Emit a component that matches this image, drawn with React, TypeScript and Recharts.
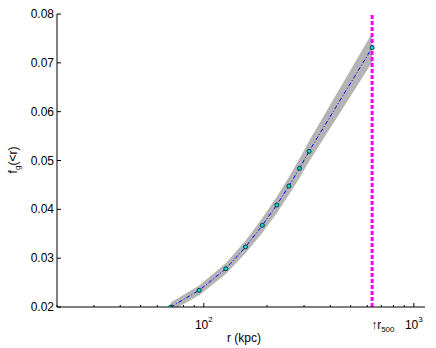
import React from 'react';
import { ComposedChart, Area, Line, XAxis, YAxis, ReferenceLine } from 'recharts';

// radius (kpc) and enclosed gas fraction
const radii = [69.6, 95, 127.3, 157.9, 190, 222.6, 254, 285.6, 317, 633];
const gasFrac = [0.02, 0.02342, 0.02784, 0.03229, 0.03673, 0.04089, 0.04478, 0.0484, 0.05189, 0.0731];
const bandLow = [0.0191, 0.02242, 0.02674, 0.03099, 0.03523, 0.03919, 0.04298, 0.0464, 0.04979, 0.0701];
const bandHigh = [0.0209, 0.02442, 0.02894, 0.03359, 0.03823, 0.04259, 0.04658, 0.0504, 0.05399, 0.0761];

const r500 = 633;
const xTicks = [20, 30, 40, 50, 60, 70, 80, 90, 100, 200, 300, 400, 500, 600, 700, 800, 900, 1000];
const xLabels: Record<number, string> = { 100: '2', 1000: '3' };
const yTicks = [0.02, 0.03, 0.04, 0.05, 0.06, 0.07, 0.08];

const data = radii.map((r, i) => ({
  r,
  f: gasFrac[i],
  band: [bandLow[i], bandHigh[i]],
}));

const font = '"Liberation Sans", Arial, sans-serif';

const XTick = (props: any) => {
  const { x, y, payload } = props;
  const sup = xLabels[payload.value];
  return (
    <g>
      <line x1={x} x2={x} y1={y} y2={y - (sup ? 4 : 2)} stroke="#000" />
      {sup && (
        <text x={x} y={y + 22} textAnchor="middle" fontSize={12} fontFamily={font} fill="#000">
          <tspan>10</tspan>
          <tspan dy={-7} fontSize={8}>{sup}</tspan>
        </text>
      )}
    </g>
  );
};

const YTick = (props: any) => {
  const { x, y, payload } = props;
  return (
    <g>
      <line x1={x} x2={x + 4} y1={y} y2={y} stroke="#000" />
      <text x={x - 3} y={y + 4} textAnchor="end" fontSize={12} fontFamily={font} fill="#000">
        {payload.value.toFixed(2)}
      </text>
    </g>
  );
};

const Dot = (props: any) => {
  const { cx, cy } = props;
  return <circle cx={cx} cy={cy} r={2} fill="#00e0e0" stroke="#003838" strokeWidth={1} />;
};

const R500Label = (props: any) => {
  const { viewBox } = props;
  const x = viewBox.x;
  const y = viewBox.y + viewBox.height + 22;
  return (
    <text x={x - 1} y={y} fontSize={12} fontFamily={font} fill="#000">
      <tspan>↑r</tspan>
      <tspan dy={3} fontSize={8}>500</tspan>
    </text>
  );
};

export default function App() {
  return (
    <div style={{ position: 'absolute', left: 0, top: 0, width: 436, height: 348, background: '#fff' }}>
      <ComposedChart width={436} height={348} data={data} margin={{ top: 14, right: 11, bottom: 0, left: 0 }}>
        <XAxis
          dataKey="r"
          type="number"
          scale="log"
          domain={[20, 1130]}
          allowDataOverflow
          ticks={xTicks}
          interval={0}
          tick={<XTick />}
          tickLine={false}
          tickSize={0}
          tickMargin={0}
          height={41}
          stroke="#000"
        />
        <YAxis
          type="number"
          domain={[0.02, 0.08]}
          allowDataOverflow
          ticks={yTicks}
          interval={0}
          tick={<YTick />}
          tickLine={false}
          tickSize={0}
          tickMargin={0}
          width={57}
          stroke="#000"
        />
        <Area
          dataKey="band"
          type="linear"
          stroke="none"
          fill="#b4b4b4"
          fillOpacity={1}
          isAnimationActive={false}
        />
        <Line
          dataKey="f"
          type="linear"
          stroke="#0000ff"
          strokeWidth={1}
          strokeDasharray="4 2 1 2"
          dot={<Dot />}
          isAnimationActive={false}
        />
        <ReferenceLine
          x={r500}
          stroke="#ff00ff"
          strokeWidth={3}
          strokeDasharray="4 2"
          label={<R500Label />}
        />
      </ComposedChart>
      <div
        style={{
          position: 'absolute',
          left: 244,
          top: 331,
          transform: 'translateX(-50%)',
          fontFamily: font,
          fontSize: 12,
          lineHeight: '14px',
          whiteSpace: 'nowrap',
        }}
      >
        r (kpc)
      </div>
      <svg style={{ position: 'absolute', left: 0, top: 0 }} width={30} height={348}>
        <text transform="translate(17,160) rotate(-90)" textAnchor="middle" fontSize={12} fontFamily={font} fill="#000">
          <tspan>f</tspan>
          <tspan dy={3} fontSize={8}>g</tspan>
          <tspan dy={-3}>(&lt;r)</tspan>
        </text>
      </svg>
    </div>
  );
}
